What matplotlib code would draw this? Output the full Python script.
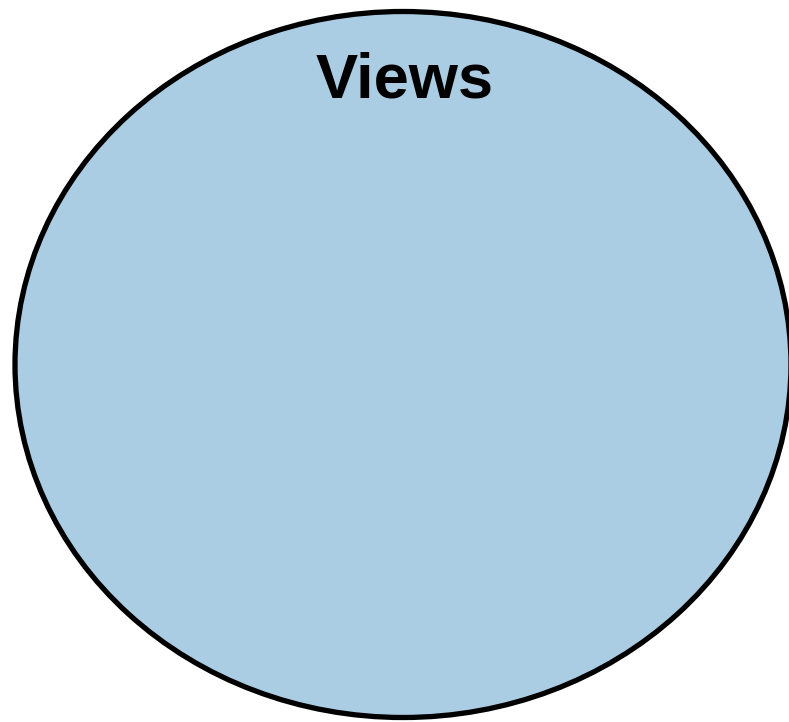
import matplotlib
matplotlib.use("Agg")
import matplotlib.pyplot as plt
from matplotlib.patches import Ellipse

# Data: a single-set Venn diagram
set_labels = ["Views"]
set_sizes = [1.0]
set_colors = ["#abcde3"]

W, H = 789, 722
fig = plt.figure(figsize=(W / 100, H / 100), dpi=100)
ax = fig.add_axes([0, 0, 1, 1])
ax.set_xlim(0, W)
ax.set_ylim(H, 0)
ax.axis("off")

cx, cy = 403, 364.5
for label, size, color in zip(set_labels, set_sizes, set_colors):
    w = 776 * size
    h = 706 * size
    e = Ellipse((cx, cy), w, h, facecolor=color, edgecolor="black",
                linewidth=3.8, clip_on=True)
    ax.add_patch(e)
    ax.text(cx + 2, 97.5, label, ha="center", va="baseline",
            fontsize=45.5, fontweight="bold", family="Liberation Sans",
            color="black")

fig.savefig("out.png", dpi=100)
